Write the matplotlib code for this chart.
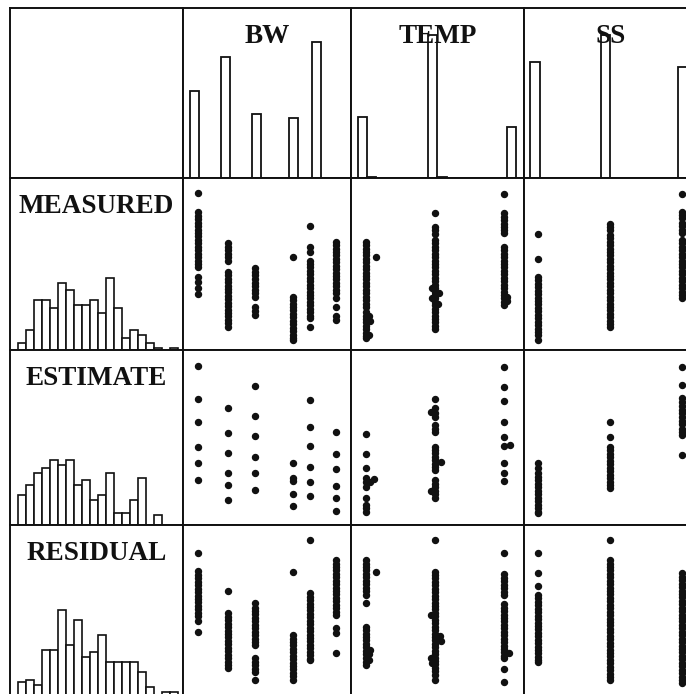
import matplotlib
matplotlib.use("Agg")
import matplotlib.pyplot as plt
import numpy as np

# ---- factor levels (x positions inside each column panel, 0-100 scale) ----
bw_levels = [9.1, 26.8, 42.6, 65.3, 75.6, 91.3]
temp_levels = [8.7, 48.8, 88.4]
ss_levels = [8.3, 49.7, 91.3]

# ---- header row: level frequencies ----
bw_bar_x = [7.1, 25.4, 43.8, 66.0, 79.6]
bw_bar_n = [51.4, 71.0, 37.6, 35.5, 80.2]
temp_bar_x = [6.6, 11.8, 47.1, 52.6, 92.8]
temp_bar_n = [35.7, 0.8, 84.0, 0.8, 30.2]
ss_bar_x = [6.4, 47.1, 91.9]
ss_bar_n = [68.1, 84.0, 65.1]

# ---- response histograms (20 bins) ----
meas_hist = [3, 8, 20, 20, 17, 27, 24, 18, 18, 20, 15, 29, 17, 5, 8, 6, 3, 1, 0, 1]
est_hist = [12, 16, 21, 23, 26, 24, 26, 16, 18, 10, 12, 21, 5, 5, 10, 19, 0, 4, 0, 0]
res_hist = [6, 7, 5, 19, 19, 35, 21, 31, 16, 18, 25, 14, 14, 14, 14, 10, 4, 0, 2, 2]

# ---- MEASURED vs factors ----
meas_bw = [
    [91, 80, 78, 76, 74, 72, 70, 68, 66, 64, 62, 60, 58, 56, 54, 52, 50, 48.5, 42.5, 39.5, 36, 32.5],
    [62, 60, 58, 56, 54, 51.5, 45.5, 43.5, 41.5, 39.5, 37.5, 35.5, 33.5, 31.5, 29.5, 27.5, 25.5,
     23.5, 21.5, 19.5, 17.5, 15.5, 13.5],
    [47.5, 45.5, 43.5, 41, 39, 37, 35, 33, 31, 25, 22.5, 20.5],
    [54, 31, 29, 27, 25, 23, 21, 19, 17, 15, 13, 11, 9, 7, 6],
    [72, 60, 57, 52, 50, 48, 46, 44, 42, 40, 38, 36, 34, 32, 30, 28, 26, 24, 22, 20, 18.5, 13.5],
    [63, 61, 59, 57, 55, 53, 51, 49, 47, 45, 43, 41, 39, 37, 35, 33, 30, 25, 19.5, 17.5],
]
meas_temp = [
    [63, 61, 59, 57, 55, 53, 51, 49, 47, 45, 43, 41, 39, 37, 35, 33, 31, 29, 27, 25, 22, 20, 18,
     16, 14, 12, 10, 8, 7],
    [79.5, 71.5, 69.5, 67.5, 64, 62, 60, 58, 56, 54, 52, 50, 48, 46, 44, 42, 40, 38, 36, 34, 32,
     30, 28, 26, 24, 22, 20, 18, 16, 14, 12],
    [90.5, 79.5, 77.5, 75.5, 73.5, 71.5, 69.5, 68, 60, 58, 56, 54, 52, 50, 48, 46, 44, 42, 40, 38,
     36, 34, 32, 30, 28, 26],
]
meas_temp_odd = [(14.5, 54), (10.5, 20), (10.8, 17), (10.3, 9), (46.9, 36), (50.6, 33),
                 (47, 30), (50.4, 27), (90.2, 31), (90.4, 28.5)]
meas_ss = [
    [67.5, 53, 42.5, 40.5, 38.5, 36.5, 34.5, 32.5, 30.5, 28.5, 26.5, 24.5, 22.5, 20.5, 18.5, 16.5,
     14.5, 12.5, 10.5, 8.5, 6],
    [73.5, 71.5, 69.5, 67, 65, 63, 61, 59, 57, 55, 53, 51, 49, 47, 45, 43, 41, 39, 37, 35, 33, 31,
     29, 27, 25, 23, 21, 19, 17, 15, 13.5],
    [90.5, 80.5, 78.5, 76.5, 74, 72, 70, 68, 64, 62, 60, 58, 56, 54, 52, 50, 48, 46, 44, 42, 40,
     38, 36, 34, 32, 30],
]

# ---- ESTIMATE vs factors ----
est_bw = [
    [90.9, 71.8, 59.0, 44.8, 35.2, 25.7],
    [66.7, 52.4, 41.0, 29.9, 22.9, 14.3],
    [79.4, 62.3, 50.9, 38.7, 29.5, 20.0],
    [35.2, 26.7, 25.2, 17.7, 10.9],
    [71.4, 55.8, 45.1, 33.3, 24.8, 16.8],
    [53.3, 40.4, 31.8, 22.3, 15.2, 8.0],
]
est_temp = [
    [51.8, 40.4, 32.4, 26.7, 24.8, 21.9, 15.2, 11.4, 9.5, 7.6],
    [71.8, 66.7, 64, 61.9, 57.1, 55, 53.3, 44.8, 43, 41, 39, 37, 35, 33, 31.4, 25.7, 23.5, 21.5,
     19.5, 17.5, 15.2],
    [90.5, 79, 70.9, 59, 50.5, 45.1, 35.2, 29.9, 25.1],
]
est_temp_odd = [(13.2, 26.5), (11.2, 24.5), (46.1, 64.5), (51.8, 36), (46.2, 19.5), (91.9, 45.8)]
est_ss = [
    [35.2, 32.4, 29.5, 27.5, 25.5, 23.5, 21.5, 19.5, 17.5, 15.5, 13.5, 11.5, 9.5, 7.5, 6.7],
    [59, 50.5, 44.8, 42.8, 40.8, 38.8, 36.8, 34.8, 32.8, 30.8, 28.8, 26.8, 24.8, 22.8, 21],
    [90.5, 80, 72.4, 70.4, 68, 66, 64, 62, 59.5, 57.5, 55, 53, 51.4, 40],
]

# ---- RESIDUAL vs factors ----
res_bw = [
    [84, 73, 71, 69, 67, 65, 63, 61, 59, 57, 55, 53, 51, 49, 47, 44, 38],
    [61.6, 48.6, 46.6, 44.6, 42.6, 40.6, 38.6, 36.6, 34.6, 32.6, 30.6, 28.6, 26.6, 24.6, 22.6,
     20.6, 18.6, 16.7],
    [54.4, 52, 50, 48, 46, 44, 42, 40, 38, 36, 34, 32, 30.2, 22.5, 20.5, 18.5, 16.5, 14.7, 9.9],
    [72.9, 36, 34, 32, 30, 28, 26, 24, 22, 20, 18, 16, 14, 12, 9.9],
    [91.3, 60.3, 58.3, 56.3, 54.3, 52.3, 50.3, 48.3, 46.3, 44.3, 42.3, 40.3, 38.3, 36.3, 34.3,
     32.3, 30.3, 28.3, 26.3, 24.3, 22.3, 21.5],
    [79.6, 77.6, 75.6, 73.6, 71.6, 69.6, 67.6, 65.6, 63.6, 61.6, 59.6, 57.6, 55.6, 53.6, 51.6,
     49.6, 47.7, 39.9, 37, 25.4],
]
res_temp = [
    [79.6, 77.6, 75.6, 73.6, 71.6, 69.6, 67.6, 65.6, 63.6, 61.6, 59.3, 54.4, 40.9, 38.9, 36.9,
     34.9, 32.9, 30.9, 28.9, 26.9, 24.9, 22.9, 20.6, 18.6],
    [91.3, 72.9, 70.9, 68.9, 66.9, 64.9, 62.9, 60.9, 58.9, 56.9, 54.9, 52.9, 50.9, 48.9, 46.9,
     44.9, 42.9, 40.9, 38.9, 36.9, 34.9, 32.9, 30.9, 28.9, 26.9, 24.9, 22.9, 20.9, 18.9, 16.9,
     14.9, 12.9, 9.9],
    [83.5, 71.3, 69.3, 67.3, 65.3, 63.3, 61.3, 59.3, 53.9, 51.9, 49.9, 47.9, 45.9, 43.9, 41.9,
     39.9, 37.9, 35.9, 33.9, 31.9, 29.9, 27.9, 25.9, 23.9, 22.5, 16.3, 8.5],
]
res_temp_odd = [(14.5, 72.9), (10.8, 27.5), (10.5, 25), (10.2, 21.5), (46.3, 47.7),
                (51.5, 35.5), (51.8, 32.5), (46.3, 22.5), (46.8, 20), (91.2, 25.5)]
res_ss = [
    [83.5, 71.9, 64.7, 59.3, 57.3, 55.3, 53.3, 51.3, 49.3, 47.3, 45.3, 43.3, 41.3, 39.3, 37.3,
     35.3, 33.3, 31.3, 29.3, 27.3, 25.3, 23.3, 21.3, 20.5],
    [91.3, 79.6, 77.6, 75.6, 73.6, 71.6, 69.6, 67.6, 65.6, 63.6, 61.6, 59.6, 57.6, 55.6, 53.6,
     51.6, 49.6, 47.6, 45.6, 43.6, 41.6, 39.6, 37.6, 35.6, 33.6, 31.6, 29.6, 27.6, 25.6, 23.6,
     21.6, 19.6, 17.6, 15.6, 13.6, 11.6, 9.9],
    [71.9, 69.9, 67.9, 65.9, 63.9, 61.9, 59.9, 57.9, 55.9, 53.9, 51.9, 49.9, 47.9, 45.9, 43.9,
     41.9, 39.9, 37.9, 35.9, 33.9, 31.9, 29.9, 27.9, 25.9, 23.9, 21.9, 19.9, 17.9, 15.9, 13.9,
     11.9, 9.9, 7.9],
]

col_names = ["BW", "TEMP", "SS"]
row_names = ["MEASURED", "ESTIMATE", "RESIDUAL"]

# layout in pixels (panel edges), last column / row run past the page edge
W, H = 686, 694
xs = [10, 183, 351, 524, 697]
ys = [8, 178, 350, 525, 697]
INK = "#111111"
FONT = dict(family="Liberation Serif", weight="bold", size=19.5, color=INK)


def panel(fig, c, r):
    x0, x1 = xs[c], xs[c + 1]
    y0, y1 = ys[r], ys[r + 1]
    ax = fig.add_axes([x0 / W, 1 - y1 / H, (x1 - x0) / W, (y1 - y0) / H])
    ax.set_xticks([])
    ax.set_yticks([])
    for sp in ax.spines.values():
        sp.set_linewidth(1.4)
        sp.set_color(INK)
    return ax


def label(ax, r, txt):
    h = ys[r + 1] - ys[r]
    ax.text(0.5, 1 - 35 / h, txt, transform=ax.transAxes, ha="center", va="baseline", **FONT)


def dots(ax, levels, cols, odd):
    for lv, vals in zip(levels, cols):
        ax.plot([lv] * len(vals), vals, "o", ms=4.3, color=INK, mec=INK, ls="none")
    if odd:
        ox, oy = zip(*odd)
        ax.plot(ox, oy, "o", ms=4.3, color=INK, mec=INK, ls="none")
    ax.set_xlim(0, 100)
    ax.set_ylim(0, 100)


fig = plt.figure(figsize=(W / 100, H / 100), dpi=100)

# top-left empty cell
panel(fig, 0, 0)

# header row: frequencies of each factor level
headers = [(bw_bar_x, bw_bar_n), (temp_bar_x, temp_bar_n), (ss_bar_x, ss_bar_n)]
for c, (bx, bn) in enumerate(headers):
    ax = panel(fig, c + 1, 0)
    ax.bar(bx, bn, width=5.3, color="white", edgecolor=INK, linewidth=1.3)
    ax.set_xlim(0, 100)
    ax.set_ylim(0, 100)
    label(ax, 0, col_names[c])

# left column: histograms of the response
hists = [meas_hist, est_hist, res_hist]
for r, counts in enumerate(hists):
    ax = panel(fig, 0, r + 1)
    ax.bar(np.arange(len(counts)), counts, width=1.0, align="edge",
           color="white", edgecolor=INK, linewidth=1.2)
    ax.set_xlim(-1, 20.6)
    ax.set_ylim(0, (ys[r + 2] - ys[r + 1]) / 2.5)
    label(ax, r + 1, row_names[r])

# scatter panels
grid = [
    [(meas_bw, None), (meas_temp, meas_temp_odd), (meas_ss, None)],
    [(est_bw, None), (est_temp, est_temp_odd), (est_ss, None)],
    [(res_bw, None), (res_temp, res_temp_odd), (res_ss, None)],
]
levels = [bw_levels, temp_levels, ss_levels]
for r in range(3):
    for c in range(3):
        ax = panel(fig, c + 1, r + 1)
        cols, odd = grid[r][c]
        dots(ax, levels[c], cols, odd)

fig.savefig("out.png", dpi=100, facecolor="white")
